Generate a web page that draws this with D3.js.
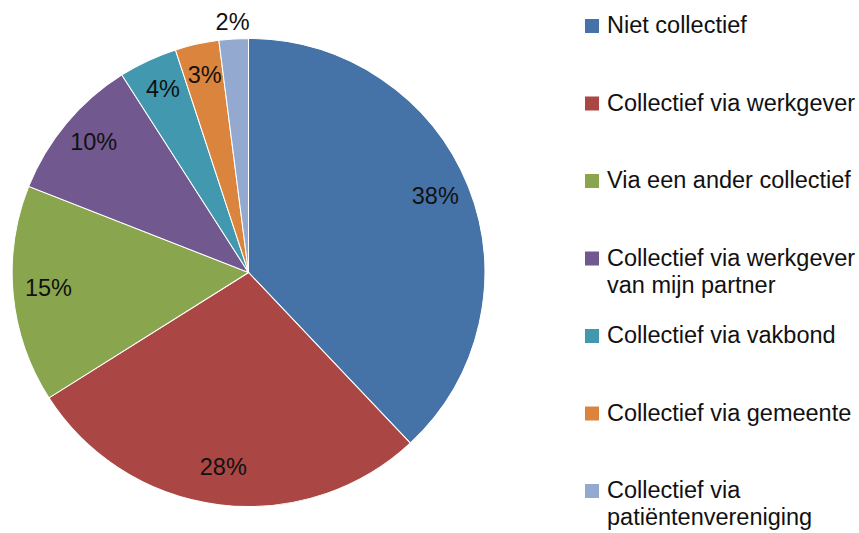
<!DOCTYPE html>
<html>
<head>
<meta charset="utf-8">
<script src="https://cdn.jsdelivr.net/npm/d3@7"></script>
<style>
  html, body { margin: 0; padding: 0; background: #fff; }
  svg { display: block; font-family: "Liberation Sans", Arial, sans-serif; }
</style>
</head>
<body>
<div id="chart"></div>
<script>
// data
const categories = [
  "Niet collectief",
  "Collectief via werkgever",
  "Via een ander collectief",
  "Collectief via werkgever van mijn partner",
  "Collectief via vakbond",
  "Collectief via gemeente",
  "Collectief via patiëntenvereniging"
];
const values = [38, 28, 15, 10, 4, 3, 2];
const legendLines = [
  ["Niet collectief"],
  ["Collectief via werkgever"],
  ["Via een ander collectief"],
  ["Collectief via werkgever", "van mijn partner"],
  ["Collectief via vakbond"],
  ["Collectief via gemeente"],
  ["Collectief via", "patiëntenvereniging"]
];
const colors = ["#4572A7", "#AA4643", "#89A54E", "#71588F", "#4198AF", "#DB843D", "#93A9CF"];

(() => {
  const width = 859, height = 533;
  const cx = 248.5, cy = 272.5, R = 234, sx = 1.01;

  const svg = d3.select("#chart").append("svg")
    .attr("width", width)
    .attr("height", height);

  const rows = categories.map((c, i) => ({ name: c, value: values[i], color: colors[i] }));

  const pie = d3.pie().value(d => d.value).sort(null);
  const arcs = pie(rows);
  const arc = d3.arc().innerRadius(0).outerRadius(R);

  const color = d3.scaleOrdinal().domain(categories).range(colors);

  // slices (slightly wider than tall, like the original)
  const g = svg.append("g")
    .attr("transform", `translate(${cx},${cy}) scale(${sx},1)`);

  g.selectAll("path")
    .data(arcs)
    .enter().append("path")
    .attr("d", arc)
    .attr("fill", d => color(d.data.name))
    .attr("stroke", "#fff")
    .attr("stroke-width", 1);

  // labels: inside for big slices, outside for the smallest one
  const inner = d3.arc().innerRadius(R * 0.85).outerRadius(R * 0.85);
  const outer = d3.arc().innerRadius(R + 17).outerRadius(R + 17);
  const isOut = d => d.data.value < 3;

  svg.append("g")
    .selectAll("text")
    .data(arcs)
    .enter().append("text")
    .attr("x", d => cx + (isOut(d) ? outer : inner).centroid(d)[0] * sx)
    .attr("y", d => cy + (isOut(d) ? outer : inner).centroid(d)[1])
    .attr("dy", d => isOut(d) ? "0.35em" : "0.2em")
    .attr("text-anchor", "middle")
    .attr("fill", "#111")
    .style("font-size", "23.5px")
    .text(d => d.data.value + "%");

  // legend
  const step = 77.5;
  const lg = svg.append("g").attr("transform", "translate(585,33)");

  const item = lg.selectAll("g")
    .data(rows)
    .enter().append("g")
    .attr("transform", (d, i) => `translate(0,${i * step})`);

  item.append("rect")
    .attr("x", 0)
    .attr("y", -14)
    .attr("width", 14)
    .attr("height", 14)
    .attr("fill", d => d.color);

  item.each(function(d, i) {
    const t = d3.select(this).append("text")
      .attr("x", 22)
      .attr("y", 0)
      .attr("fill", "#111")
      .style("font-size", "23.5px");
    legendLines[i].forEach((line, j) => {
      t.append("tspan")
        .attr("x", 22)
        .attr("y", j * 27)
        .text(line);
    });
  });
})();
</script>
</body>
</html>
